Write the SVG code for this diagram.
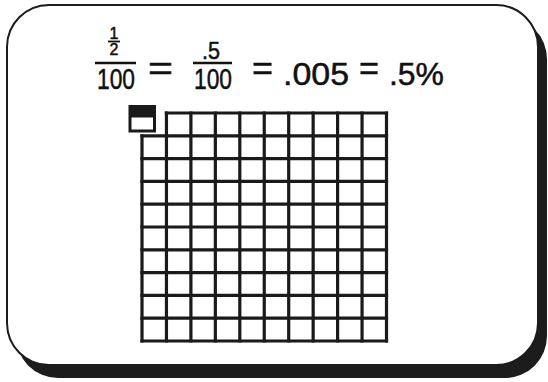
<svg xmlns="http://www.w3.org/2000/svg" width="548" height="382" viewBox="0 0 548 382">
<style>
.t{font-family:"Liberation Sans",Arial,sans-serif;fill:#111;stroke:#111;stroke-width:0.5}
.g{stroke:#1a1a1a;stroke-width:3.2;fill:none;stroke-linecap:square}
</style>
<rect width="548" height="382" fill="#fff"/>
<g id="card">
<rect x="16" y="17" width="531" height="361" rx="42" fill="#1c1c1c"/>
<rect x="7" y="5" width="531" height="360" rx="42" fill="#fff" stroke="#1c1c1c" stroke-width="2"/>
</g>
<g id="equation">
<text class="t" x="114" y="38.5" font-size="16" text-anchor="middle">1</text>
<line x1="108" y1="41.5" x2="120" y2="41.5" stroke="#111" stroke-width="1.8"/>
<text class="t" x="114" y="55" font-size="16" text-anchor="middle">2</text>
<line x1="95" y1="63" x2="136" y2="63" stroke="#111" stroke-width="2.6"/>
<text class="t" x="97" y="89" font-size="29" textLength="38" lengthAdjust="spacingAndGlyphs">100</text>
<text class="t" x="148" y="80" font-size="34" textLength="25" lengthAdjust="spacingAndGlyphs">=</text>
<text class="t" x="202" y="59" font-size="24" textLength="18" lengthAdjust="spacingAndGlyphs">.5</text>
<line x1="193" y1="63" x2="232" y2="63" stroke="#111" stroke-width="2.6"/>
<text class="t" x="194" y="89" font-size="29" textLength="38" lengthAdjust="spacingAndGlyphs">100</text>
<text class="t" x="252" y="80" font-size="34" textLength="21" lengthAdjust="spacingAndGlyphs">=</text>
<text class="t" x="283" y="85" font-size="32" textLength="66" lengthAdjust="spacingAndGlyphs">.005</text>
<text class="t" x="359" y="80" font-size="34" textLength="20" lengthAdjust="spacingAndGlyphs">=</text>
<text class="t" x="389" y="85" font-size="32" textLength="55" lengthAdjust="spacingAndGlyphs">.5%</text>
</g>
<g id="half-square">
<rect x="130" y="106.5" width="24.5" height="24.5" fill="#fff" stroke="#1a1a1a" stroke-width="3"/>
<rect x="130" y="106.5" width="24.5" height="11" fill="#1a1a1a"/>
</g>
<g id="grid" class="g">
<path d="M166.4 113H386.5M142 135.8H386.5M142 158.6H386.5M142 181.4H386.5M142 204.2H386.5M142 227H386.5M142 249.8H386.5M142 272.6H386.5M142 295.4H386.5M142 318.2H386.5M142 341H386.5"/>
<path d="M142 135.8V341M166.45 113V341M190.9 113V341M215.35 113V341M239.8 113V341M264.25 113V341M288.7 113V341M313.15 113V341M337.6 113V341M362.05 113V341M386.5 113V341"/>
</g>
</svg>
